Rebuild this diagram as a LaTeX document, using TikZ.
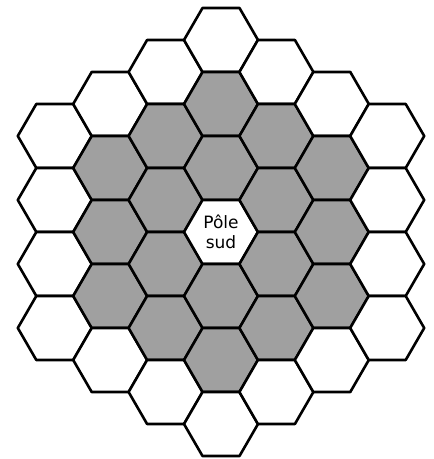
\documentclass[tikz,border=0pt]{standalone}
\usepackage{fontspec}
\setmainfont{DejaVu Sans}
\definecolor{hexgray}{RGB}{160,160,160}
\begin{document}
\begin{tikzpicture}[x=1pt,y=1pt,
  hexline/.style={line width=2.6pt, line join=round, draw=black},
  labeltext/.style={font=\fontsize{17}{20}\selectfont, align=center, inner sep=0pt}]
\useasboundingbox (0,0) rectangle (434,459);
\fill[white] (0,0) rectangle (434,459);
\foreach \q in {-3,...,3}{
  \foreach \r in {-3,...,3}{
    \pgfmathtruncatemacro\d{max(abs(\q),abs(\r),abs(\q+\r))}
    \pgfmathsetmacro\cx{221+55.4*\q}
    \pgfmathsetmacro\cy{227-64*\r-32*\q}
    \ifnum\d<4
      \ifnum\d=0 \def\hexfill{white}\else
        \ifnum\d=3 \def\hexfill{white}\else \def\hexfill{hexgray}\fi
      \fi
      \filldraw[hexline, fill=\hexfill] (\cx,\cy) ++(37,0) -- ++(-18.5,32) -- ++(-37,0) -- ++(-18.5,-32) -- ++(18.5,-32) -- ++(37,0) -- cycle;
    \fi
  }
}
\node[labeltext] (pole) at (221,227) {Pôle\\sud};
\end{tikzpicture}
\end{document}
